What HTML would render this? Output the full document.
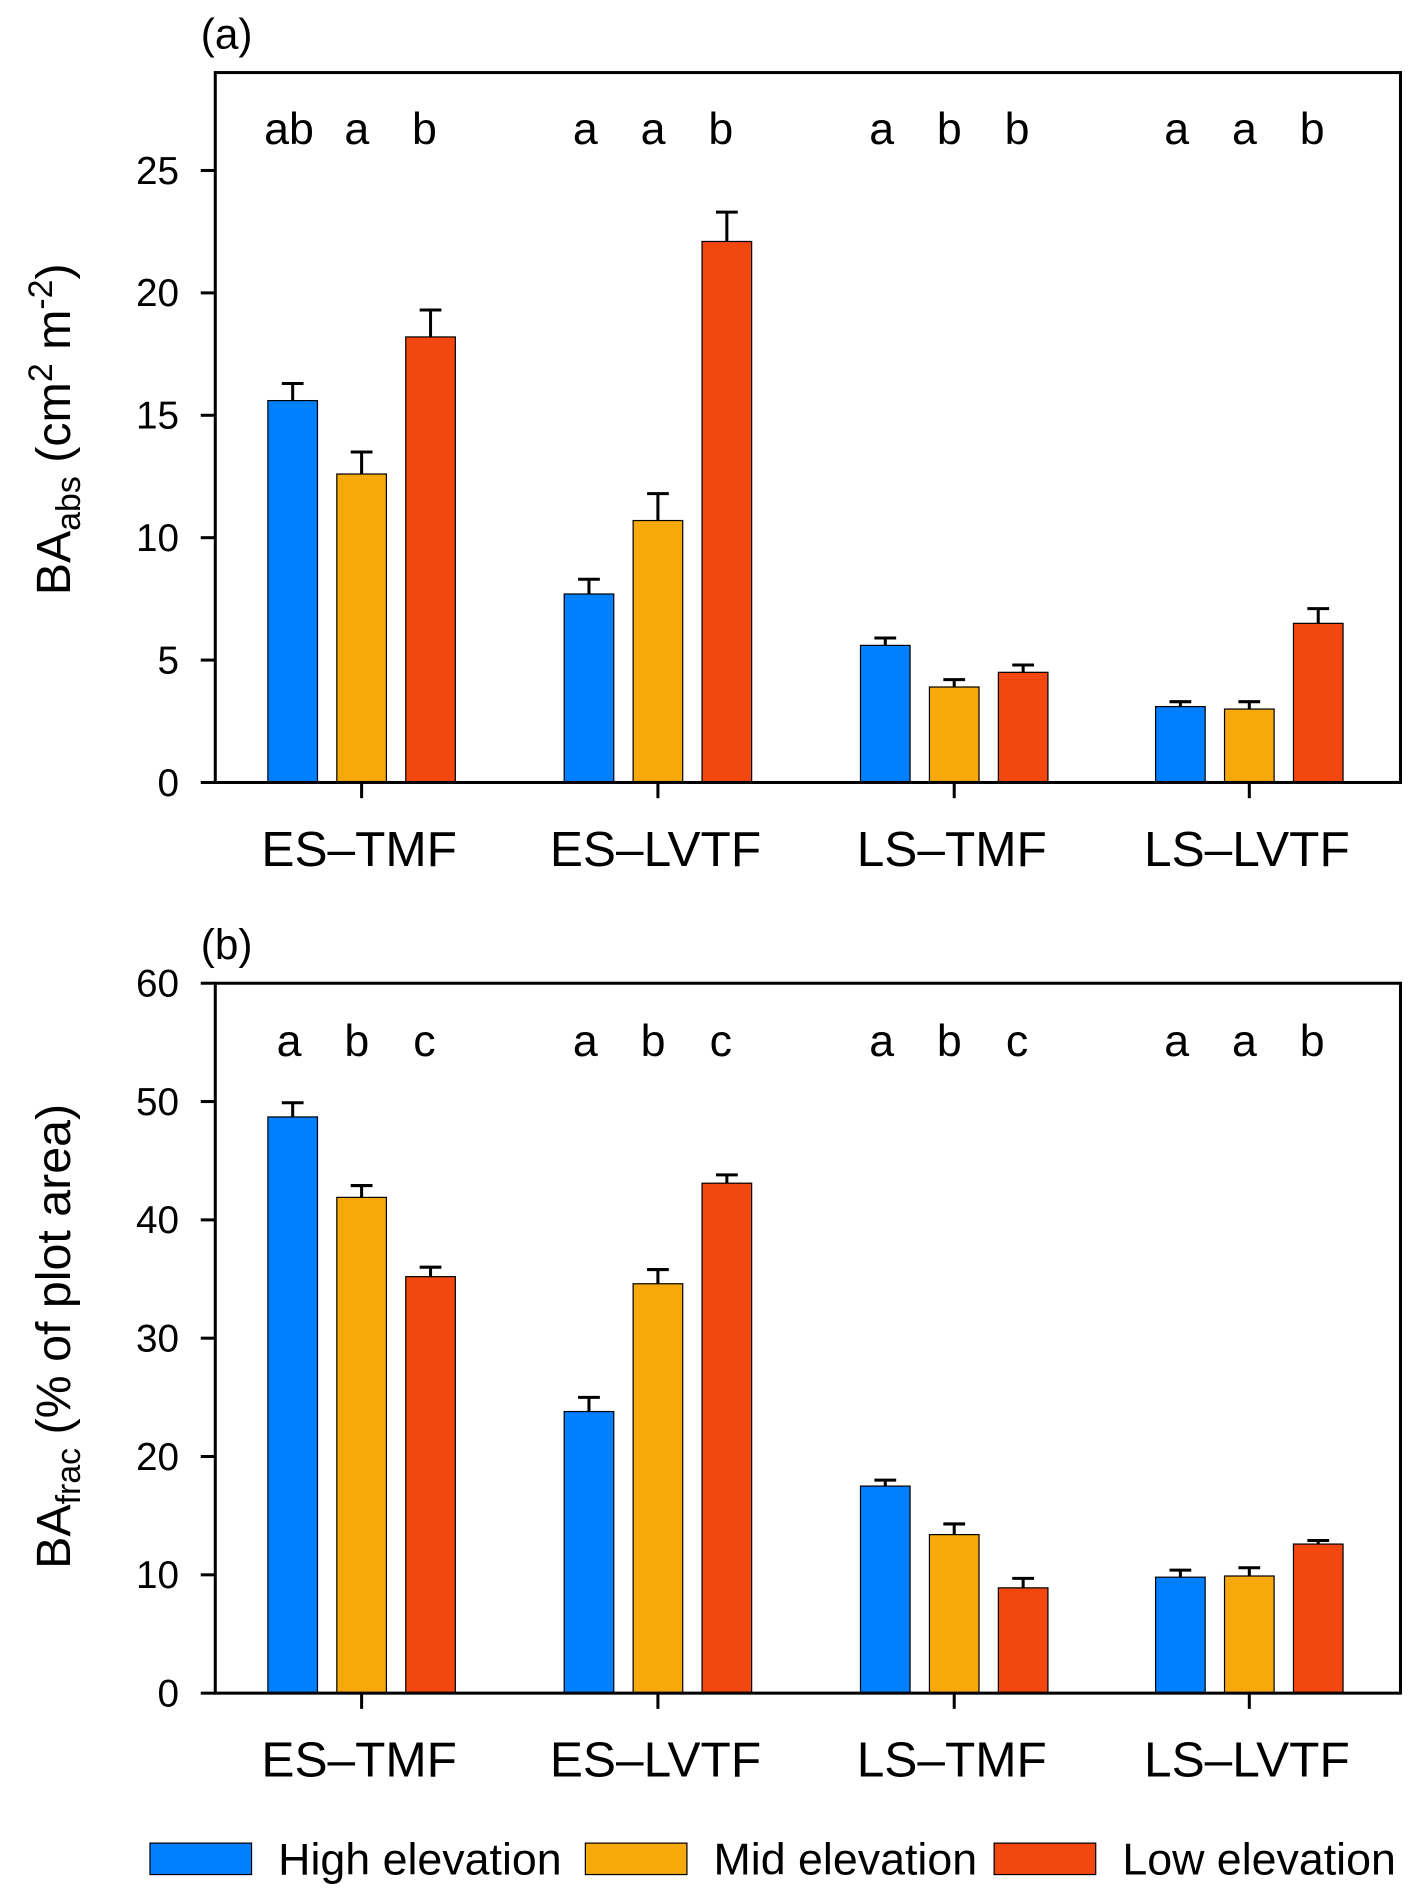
<!DOCTYPE html>
<html><head><meta charset="utf-8"><style>
html,body{margin:0;padding:0;background:#fff}
svg{display:block}
text{font-family:"Liberation Sans",Arial,sans-serif;fill:#000}
</style></head><body>
<svg id="chart" width="1415" height="1891" viewBox="0 0 1170 1563.6" preserveAspectRatio="none" xmlns="http://www.w3.org/2000/svg"></svg>
<script>
const categories = ["ES\u2013TMF","ES\u2013LVTF","LS\u2013TMF","LS\u2013LVTF"];
const seriesNames = ["High elevation","Mid elevation","Low elevation"];
const seriesColors = ["#0080FF","#F7A80B","#F2480F"];
const absHigh = [15.6, 7.7, 5.6, 3.1];
const absMid  = [12.6, 10.7, 3.9, 3.0];
const absLow  = [18.2, 22.1, 4.5, 6.5];
const absHighErr = [0.7, 0.6, 0.3, 0.2];
const absMidErr  = [0.9, 1.1, 0.3, 0.3];
const absLowErr  = [1.1, 1.2, 0.3, 0.6];
const absLetters = [["ab","a","b"],["a","a","b"],["a","b","b"],["a","a","b"]];
const absTicks = [0,5,10,15,20,25];
const fracHigh = [48.7, 23.8, 17.5, 9.8];
const fracMid  = [41.9, 34.6, 13.4, 9.9];
const fracLow  = [35.2, 43.1, 8.9, 12.6];
const fracHighErr = [1.2, 1.2, 0.5, 0.6];
const fracMidErr  = [1.0, 1.2, 0.9, 0.7];
const fracLowErr  = [0.8, 0.7, 0.8, 0.3];
const fracLetters = [["a","b","c"],["a","b","c"],["a","b","c"],["a","a","b"]];
const fracTicks = [0,10,20,30,40,50,60];

const svg = document.getElementById('chart');
const NS = 'http://www.w3.org/2000/svg';
function mk(tag, attrs, parent){
  const e = document.createElementNS(NS, tag);
  for (const k in attrs) e.setAttribute(k, attrs[k]);
  (parent||svg).appendChild(e);
  return e;
}
const L = 178, R = 1158;
const groupCenters = [299, 544, 789, 1033];
const barOff = 57, barW = 41;
function xBand(i){ return groupCenters[i]; }

function panel(opts){
  const g = mk('g', {});
  
  
  const T = opts.top, B = opts.bottom, maxV = opts.max;
  const y = v => B - (v / maxV) * (B - T);
  const vals = [opts.high, opts.mid, opts.low];
  const errs = [opts.highErr, opts.midErr, opts.lowErr];
  for (let c = 0; c < categories.length; c++) {
    for (let s = 0; s < 3; s++) {
      const cx = xBand(c) + (s - 1) * barOff;
      const v = vals[s][c], e = errs[s][c];
      const r = mk('rect', {x: cx - barW/2, y: y(v), width: barW, height: B - y(v), fill: seriesColors[s], stroke: '#000', 'stroke-width': 1}, g);
      
      
      const el = mk('path', {d: `M${cx},${y(v)} V${y(v+e)} M${cx-9},${y(v+e)} H${cx+9}`, stroke: '#000', 'stroke-width': 2.5, fill: 'none'}, g);
      
      
      const lt = mk('text', {x: cx - 4 + (s - 1) * -1, y: opts.letterY, 'font-size': 37, 'text-anchor': 'middle'}, g);
      lt.textContent = opts.letters[c][s];
      
      
    }
    const tk = mk('line', {x1: xBand(c), x2: xBand(c), y1: B, y2: B + 13, stroke: '#000', 'stroke-width': 2.5}, g);
    
    
    const cl = mk('text', {x: xBand(c) - 2, y: B + 69, 'font-size': 41, 'text-anchor': 'middle'}, g);
    cl.textContent = categories[c];
    
    
  }
  const fr = mk('rect', {x: L, y: T, width: R - L, height: B - T, fill: 'none', stroke: '#000', 'stroke-width': 2.5}, g);
  
  
  for (const t of opts.ticks) {
    const tl = mk('line', {x1: L - 12, x2: L, y1: y(t), y2: y(t), stroke: '#000', 'stroke-width': 2.5}, g);
    
    
    const tx = mk('text', {x: L - 30, y: y(t) + 11, 'font-size': 32, 'text-anchor': 'end'}, g);
    tx.textContent = t;
    
    
  }
  const pl = mk('text', {x: 166, y: T - 20, 'font-size': 35}, g);
  pl.textContent = opts.label;
  
  
  const yt = mk('text', {x: 0, y: 0, 'font-size': 40, 'text-anchor': 'middle', transform: `translate(58,${opts.titleY}) rotate(-90)`}, g);
  
  
  yt.innerHTML = opts.title;
}

panel({name:'panel-a', key:'abs', top:60, bottom:647, max:29, high:absHigh, mid:absMid, low:absLow,
  highErr:absHighErr, midErr:absMidErr, lowErr:absLowErr, letters:absLetters, letterY:119, ticks:absTicks,
  label:'(a)', titleY:355,
  title:'BA<tspan font-size="28" dy="8">abs</tspan><tspan dy="-8"> (cm</tspan><tspan font-size="28" dy="-15">2</tspan><tspan dy="15"> m</tspan><tspan font-size="28" dy="-15">-2</tspan><tspan dy="15">)</tspan>'});
panel({name:'panel-b', key:'frac', top:813, bottom:1400, max:60, high:fracHigh, mid:fracMid, low:fracLow,
  highErr:fracHighErr, midErr:fracMidErr, lowErr:fracLowErr, letters:fracLetters, letterY:873, ticks:fracTicks,
  label:'(b)', titleY:1105,
  title:'BA<tspan font-size="28" dy="8">frac</tspan><tspan dy="-8"> (% of plot area)</tspan>'});

const lg = mk('g', {});


const legX = [124, 484, 822];
for (let s = 0; s < 3; s++) {
  const b = mk('rect', {x: legX[s], y: 1524, width: 84, height: 26, fill: seriesColors[s], stroke: '#000', 'stroke-width': 1}, lg);
  
  
  const t = mk('text', {x: legX[s] + 106, y: 1550, 'font-size': 37}, lg);
  t.textContent = seriesNames[s];
  
  
}
</script>
</body></html>
